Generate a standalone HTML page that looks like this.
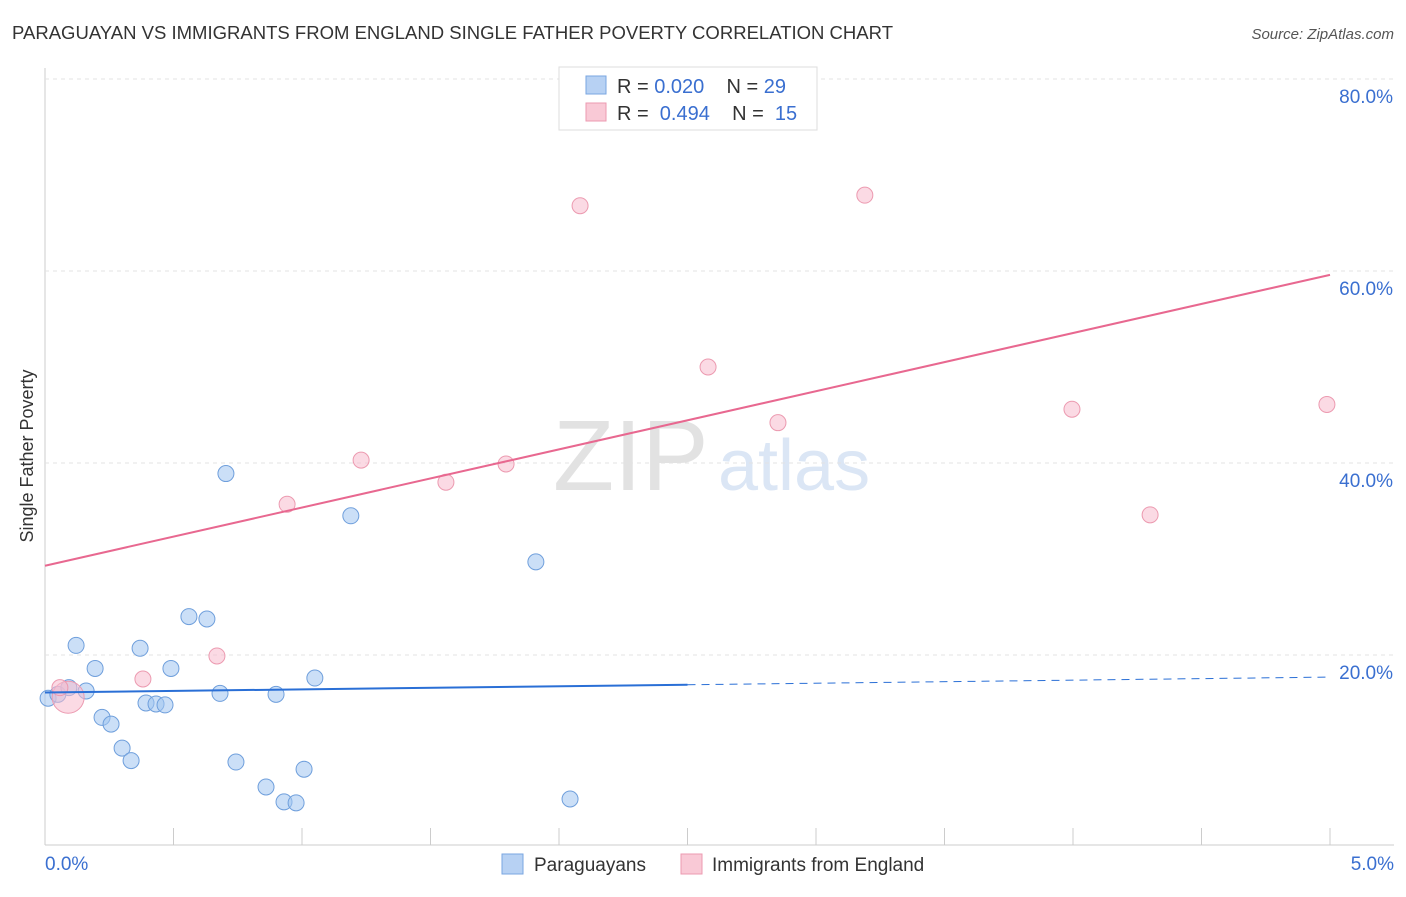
<!DOCTYPE html>
<html><head><meta charset="utf-8"><style>
body{margin:0;background:#fff;font-family:"Liberation Sans",sans-serif}
svg text{font-family:"Liberation Sans",sans-serif}
</style></head><body>
<svg id="c" width="1406" height="892">
<text x="12" y="39" font-size="18" fill="#333" textLength="881" lengthAdjust="spacingAndGlyphs">PARAGUAYAN VS IMMIGRANTS FROM ENGLAND SINGLE FATHER POVERTY CORRELATION CHART</text>
<text x="1394" y="39" font-size="15" fill="#555" text-anchor="end" font-style="italic">Source: ZipAtlas.com</text>
<text x="33" y="456" font-size="18" fill="#333" text-anchor="middle" transform="rotate(-90 33 456)">Single Father Poverty</text>
<text x="553" y="490" font-size="100" fill="#e2e2e2" font-family="Liberation Serif">ZIP</text>
<text x="718" y="490" font-size="72" fill="#dbe6f5">atlas</text>
<g id="grid"></g><g id="marks"></g>
<g>
<rect x="559" y="67" width="258" height="63" fill="#fff" stroke="#ddd"/>
<rect x="586" y="76" width="20" height="18" fill="#b7d1f3" stroke="#7aa6e0"/>
<text x="617" y="93" font-size="20" fill="#333" xml:space="preserve">R = <tspan fill="#3a6fd0">0.020</tspan>    N = <tspan fill="#3a6fd0">29</tspan></text>
<rect x="586" y="103" width="20" height="18" fill="#f9c9d6" stroke="#ec9ab0"/>
<text x="617" y="120" font-size="20" fill="#333" xml:space="preserve">R =  <tspan fill="#3a6fd0">0.494</tspan>    N =  <tspan fill="#3a6fd0">15</tspan></text>
</g>
<g>
<rect x="502" y="854" width="21" height="20" fill="#b7d1f3" stroke="#7aa6e0"/>
<text x="534" y="871" font-size="19" fill="#333">Paraguayans</text>
<rect x="681" y="854" width="21" height="20" fill="#f9c9d6" stroke="#ec9ab0"/>
<text x="712" y="871" font-size="19" fill="#333">Immigrants from England</text>
</g>
</svg>
<script>
const blueX=[0.012,0.05,0.093,0.121,0.16,0.195,0.222,0.257,0.30,0.335,0.37,0.393,0.432,0.467,0.49,0.56,0.63,0.681,0.704,0.743,0.86,0.899,0.93,0.977,1.008,1.05,1.19,1.91,2.043];
const blueY=[15.5,15.9,16.6,21.0,16.25,18.6,13.5,12.8,10.3,9.0,20.7,15.0,14.9,14.8,18.6,24.0,23.75,16.0,38.9,8.85,6.25,15.9,4.7,4.6,8.1,17.6,34.5,29.7,5.0];
const pinkX=[0.09,0.058,0.381,0.669,0.942,1.23,1.56,1.794,2.082,2.58,2.852,3.19,3.996,4.3,4.988];
const pinkY=[15.6,16.6,17.5,19.9,35.7,40.3,38.0,39.9,66.8,50.0,44.2,67.9,45.6,34.6,46.1];
const pinkR=[16,8,8,8,8,8,8,8,8,8,8,8,8,8,8];
const yTicks=[20,40,60,80];
const xTicks=[0,0.5,1,1.5,2,2.5,3,3.5,4,4.5,5];
const blueTrend=[16.1,16.9,17.7];
const pinkTrend=[29.3,59.6];
const X=v=>45+v/5*1285, Y=v=>847-v*9.6;
const NS="http://www.w3.org/2000/svg";
function mk(t,a,p){const e=document.createElementNS(NS,t);for(const k in a)e.setAttribute(k,a[k]);p.appendChild(e);return e;}
const g=document.getElementById('grid'), m=document.getElementById('marks');
const ax=mk('line',{x1:45,y1:68,x2:45,y2:845,stroke:'#ccc'},g);

const bx=mk('line',{x1:45,y1:845,x2:1394,y2:845,stroke:'#ccc'},g);

yTicks.forEach(v=>{
 const l=mk('line',{x1:45,y1:Y(v),x2:1394,y2:Y(v),stroke:'#e3e3e3','stroke-dasharray':'4 4'},g);
 
 const t=mk('text',{x:1393,y:Y(v)+24,'font-size':19,fill:'#3a6fd0','text-anchor':'end'},g);t.textContent=v.toFixed(1)+'%';
 
});
xTicks.forEach(v=>{
 const l=mk('line',{x1:X(v),y1:828,x2:X(v),y2:845,stroke:'#ccc'},g);
 
});
[[0,'start',45],[5,'end',1394]].forEach(([v,a,x])=>{
 const t=mk('text',{x:x,y:870,'font-size':19,fill:'#3a6fd0','text-anchor':a},g);t.textContent=v.toFixed(1)+'%';
 
});
blueX.forEach((x,i)=>{
 const c=mk('circle',{cx:X(x),cy:Y(blueY[i]),r:8,fill:'rgba(160,196,240,0.55)',stroke:'#6f9fdc','stroke-width':1},m);
 
});
pinkX.forEach((x,i)=>{
 const c=mk('circle',{cx:X(x),cy:Y(pinkY[i]),r:pinkR[i],fill:'rgba(248,188,206,0.55)',stroke:'#ec9ab0','stroke-width':1},m);
 
});
const b1=mk('line',{x1:X(0),y1:Y(blueTrend[0]),x2:X(2.5),y2:Y(blueTrend[1]),stroke:'#2a6fd6','stroke-width':2},m);

const b2=mk('line',{x1:X(2.5),y1:Y(blueTrend[1]),x2:X(5),y2:Y(blueTrend[2]),stroke:'#2a6fd6','stroke-width':1,'stroke-dasharray':'8 6'},m);

const p1=mk('line',{x1:X(0),y1:Y(pinkTrend[0]),x2:X(5),y2:Y(pinkTrend[1]),stroke:'#e86890','stroke-width':2},m);

</script>
</body></html>
